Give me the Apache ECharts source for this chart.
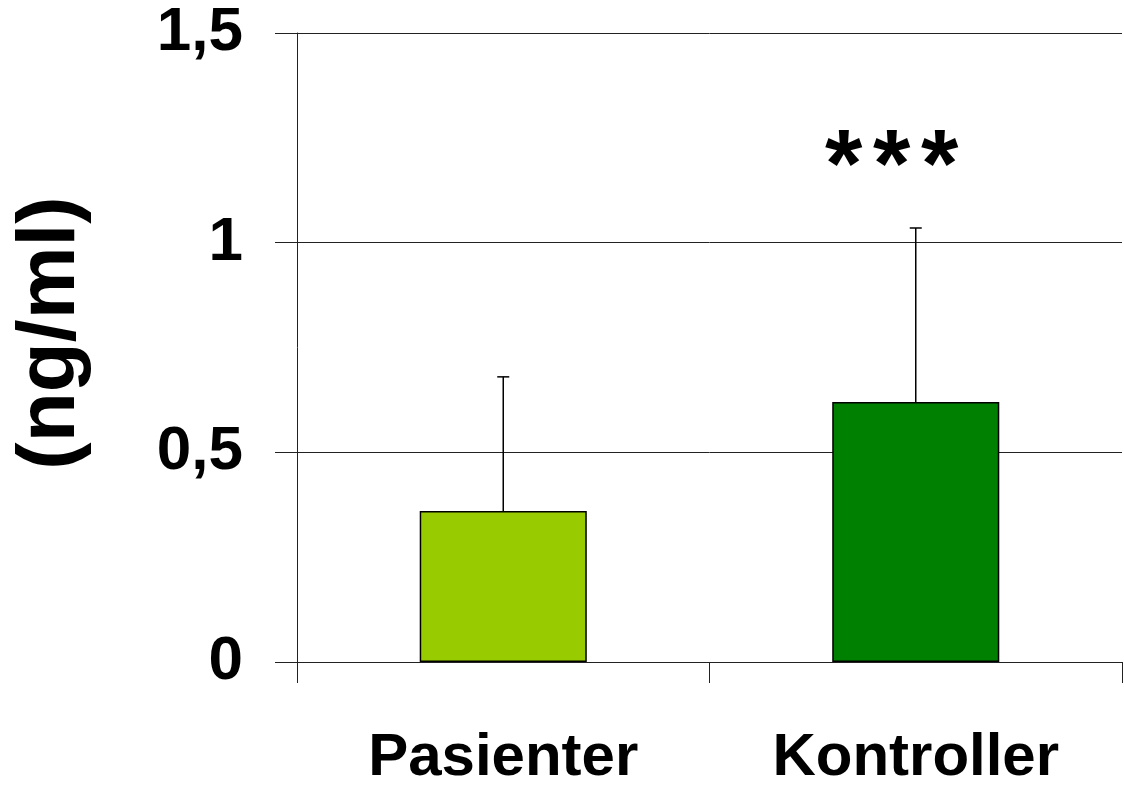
<!DOCTYPE html>
<html>
<head>
<meta charset="utf-8">
<script src="https://cdn.jsdelivr.net/npm/echarts@6/dist/echarts.min.js"></script>
<style>
  html, body { margin: 0; padding: 0; background: #fff; }
  #myChart { width: 1124px; height: 792px; }
</style>
</head>
<body>
<div id="myChart"></div>
<script>
// data
var categories = ["Pasienter", "Kontroller"];
var means = [0.36, 0.62];
var sds = [0.32, 0.415];
var yTicks = [0, 0.5, 1, 1.5];
var signif = ["", "***"];
var signifLevel = [0, 1.175];

var barColors = ["#99cc00", "#008000"];
var font = "'Liberation Sans', Arial, sans-serif";

var myChart = echarts.init(document.getElementById("myChart"));

myChart.setOption({
  animation: false,
  grid: { left: 297, right: 2, top: 33, bottom: 130 },
  xAxis: {
    type: "category",
    data: categories,
    axisLine: { lineStyle: { color: "#222", width: 1 } },
    axisTick: { show: true, inside: false, length: 21, alignWithLabel: false, interval: 0,
      lineStyle: { color: "#222" } },
    axisLabel: { color: "#000", fontFamily: font, fontWeight: "bold", fontSize: 60, margin: 66 },
    splitLine: { show: false }
  },
  yAxis: {
    type: "value",
    min: yTicks[0],
    max: yTicks[yTicks.length - 1],
    interval: yTicks[1] - yTicks[0],
    axisLine: { show: true, lineStyle: { color: "#222", width: 1 } },
    axisTick: { show: true, length: 22, lineStyle: { color: "#222" } },
    splitLine: { show: true, lineStyle: { color: "#222", width: 1 } },
    axisLabel: {
      color: "#000", fontFamily: font, fontWeight: "bold", fontSize: 62, margin: 54,
      formatter: function (v) { return String(v).replace(".", ","); }
    }
  },
  graphic: [{
    type: "text",
    x: 51, y: 333,
    rotation: Math.PI / 2,
    style: {
      text: "(ng/ml)", fill: "#000", font: "bold 82px " + font,
      textAlign: "center", textVerticalAlign: "middle"
    }
  }],
  series: [
    {
      type: "bar",
      barWidth: "40.5%",
      data: means.map(function (v, i) {
        return { value: v, itemStyle: { color: barColors[i] } };
      }),
      itemStyle: { borderColor: "#000", borderWidth: 1.5 },
      z: 2
    },
    {
      // error bars (upper only)
      type: "custom",
      data: means.map(function (v, i) { return [i, v, v + sds[i]]; }),
      renderItem: function (params, api) {
        var lo = api.coord([api.value(0), api.value(1)]);
        var hi = api.coord([api.value(0), api.value(2)]);
        var cap = 6;
        return {
          type: "group",
          children: [
            { type: "line", shape: { x1: lo[0], y1: lo[1], x2: hi[0], y2: hi[1] },
              style: { stroke: "#000", lineWidth: 1.5 } },
            { type: "line", shape: { x1: hi[0] - cap, y1: hi[1], x2: hi[0] + cap, y2: hi[1] },
              style: { stroke: "#000", lineWidth: 1.5 } }
          ]
        };
      },
      z: 3
    },
    {
      // significance stars
      type: "custom",
      data: signif.map(function (s, i) { return [i, signifLevel[i]]; }),
      renderItem: function (params, api) {
        var label = signif[params.dataIndex];
        if (!label) return null;
        var p = api.coord([api.value(0), api.value(1)]);
        var children = [];
        var step = 48;
        for (var k = 0; k < label.length; k++) {
          children.push({
            type: "text",
            x: p[0] - 24 + (k - (label.length - 1) / 2) * step,
            y: p[1],
            style: { text: label[k], fill: "#000", font: "bold 96px " + font,
              textAlign: "center", textVerticalAlign: "middle" }
          });
        }
        return { type: "group", children: children };
      },
      z: 4
    }
  ]
});
</script>
</body>
</html>
